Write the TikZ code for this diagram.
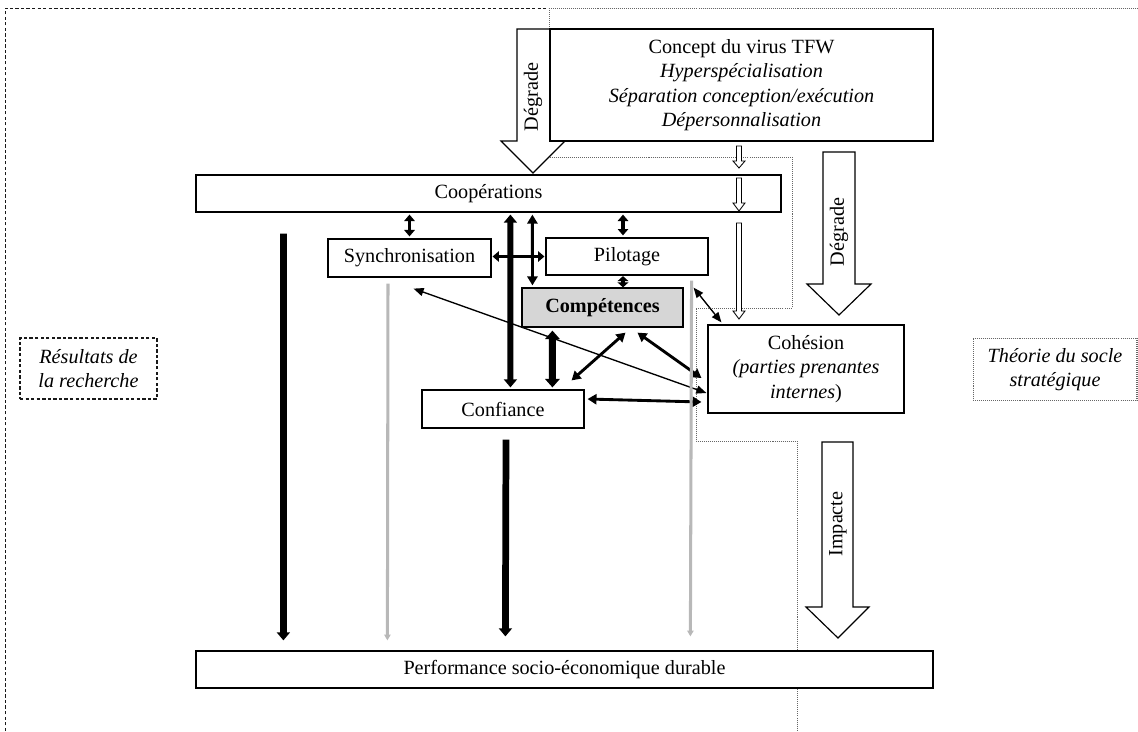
\documentclass[tikz,border=0pt]{standalone}
\usepackage{fontspec}
\setmainfont{Liberation Serif}
\usetikzlibrary{arrows.meta, calc}

\begin{document}
\begin{tikzpicture}[
  x=0.594pt, y=-0.594pt,
  font=\fontsize{12}{14.5}\selectfont,
  box/.style={draw, line width=0.7pt, fill=white, align=center, inner sep=0pt},
  skill/.style={box, fill=black!16, font=\fontsize{12}{14.5}\selectfont\bfseries},
  hollow/.style={draw, line width=0.7pt, fill=white, line join=miter},
  thinhollow/.style={draw, line width=0.5pt, fill=white},
  frame/.style={line width=0.55pt, draw=black!90, dash pattern=on 2pt off 1.3pt},
  zone/.style={line width=0.45pt, draw=black!60, dash pattern=on 0.6pt off 0.6pt},
  heavy/.style={line width=3.6pt, {Triangle[length=4.8pt,width=7.7pt]}-{Triangle[length=4.8pt,width=7.7pt]}},
  heavier/.style={line width=4.2pt, {Triangle[length=5pt,width=8.5pt]}-{Triangle[length=5pt,width=8.5pt]}},
  mid/.style={line width=2.2pt, {Triangle[length=3.8pt,width=6.2pt]}-{Triangle[length=3.8pt,width=6.2pt]}},
  short/.style={line width=2.2pt, {Triangle[length=3pt,width=6.4pt]}-{Triangle[length=3pt,width=6.4pt]}},
  medium/.style={line width=1.7pt, {Triangle[length=5.3pt,width=6pt]}-{Triangle[length=5.3pt,width=6pt]}},
  fine/.style={line width=0.8pt, {Triangle[length=6pt,width=4.8pt]}-{Triangle[length=6pt,width=4.8pt]}},
  feed/.style={line width=4pt, -{Triangle[length=4.8pt,width=7.7pt]}},
  greyfeed/.style={line width=1.8pt, black!28, -{Triangle[length=3.5pt,width=3.8pt]}}
]
\useasboundingbox (0,0) rectangle (1138,731);

% --- frames: research results (dashed) and strategic base (dotted) ---
\draw[frame] (5,731) -- (5,8) -- (549,8);
\draw[zone] (549,8) -- (1138,8);
\draw[zone] (549,8) -- (549,157) -- (792,157) -- (792,308) -- (696,308)
  -- (696,441) -- (797,441) -- (797,731);

\node[box, frame, line width=0.65pt, font=\fontsize{12}{14.5}\selectfont\itshape,
  minimum width=81.4pt, minimum height=36.2pt] (results) at (88.5,368.5)
  {Résultats de\\la recherche};
\node[box, zone, line width=0.6pt, font=\fontsize{12}{14.5}\selectfont\itshape,
  minimum width=97.4pt, minimum height=37.4pt] (theory) at (1055,369.5)
  {Théorie du socle\\stratégique};

% --- hollow block arrows ---
\draw[hollow] (517,29) -- (517,141) -- (501,141) -- (533,173) -- (565,141)
  -- (550,141) -- (550,29) -- cycle;
\node[rotate=90] (degradeA) at (533,97) {Dégrade};
\draw[hollow] (823,152) -- (823,284) -- (807,284) -- (839,315) -- (871,284)
  -- (855,284) -- (855,152) -- cycle;
\node[rotate=90] (degradeB) at (839,232) {Dégrade};
\draw[hollow] (822,442) -- (822,607) -- (806,607) -- (838,638) -- (869,607)
  -- (853,607) -- (853,442) -- cycle;
\node[rotate=90] (impact) at (838,524) {Impacte};

% --- the main boxes ---
\node[box, minimum width=227.5pt, minimum height=66.5pt] (virus) at (741.5,85)
  {Concept du virus TFW\\\textit{Hyperspécialisation}\\
   \textit{Séparation conception/exécution}\\\textit{Dépersonnalisation}};
\node[box, minimum width=347.5pt, minimum height=22pt] (coop) at (488.5,193.5) {Coopérations};
\node[box, minimum width=96.8pt, minimum height=22.6pt] (sync) at (409.5,258) {Synchronisation};
\node[box, minimum width=96.2pt, minimum height=22pt] (pilot) at (627,256.5) {Pilotage};
\node[skill, minimum width=95.6pt, minimum height=23.2pt] (skills) at (602.5,307.5) {Compétences};
\node[box, minimum width=96.2pt, minimum height=22.6pt] (trust) at (503,409) {Confiance};
\node[box, minimum width=116.4pt, minimum height=52.3pt] (cohesion) at (806,369)
  {Cohésion\\\textit{(parties prenantes}\\\textit{internes})};
\node[box, minimum width=437.8pt, minimum height=22pt] (perf) at (564.5,669.5)
  {Performance socio-économique durable};

% --- small hollow arrows from the virus down to cohesion ---
\draw[thinhollow] (736.5,146) -- (736.5,161) -- (733,161) -- (739,168) -- (745,161)
  -- (741.5,161) -- (741.5,146) -- cycle;
\draw[thinhollow] (736.5,178) -- (736.5,203) -- (733,203) -- (739,211) -- (745,203)
  -- (741.5,203) -- (741.5,178) -- cycle;
\draw[thinhollow] (736.5,223) -- (736.5,311) -- (733,311) -- (739,319) -- (745,311)
  -- (741.5,311) -- (741.5,223) -- cycle;

% --- links between the levers ---
\draw[mid] ($(sync.north |- coop.south)+(0,2)$) -- ($(sync.north)+(0,-2)$);
\draw[mid] ($(pilot.north |- coop.south)+(-4,2)$) -- ($(pilot.north)+(-4,-2)$);
\draw[short] ($(pilot.south)+(-4,0.5)$) -- ($(pilot.south |- skills.north)+(-4,0)$);
\draw[mid] ($(sync.east)+(1,-1.5)$) -- ($(sync.east -| pilot.west)+(-1,-1.5)$);
\draw[heavy] ($(coop.south west)+(315,2)$) -- ($(trust.north west)+(89,-2)$);
\draw[medium] ($(coop.south west)+(337,2)$) -- ($(skills.north west)+(11,-2)$);
\draw[heavier] ($(skills.south west)+(31,3)$) -- ($(trust.north west)+(131,-2)$);
\draw[medium] ($(skills.south)+(23,5)$) -- ($(trust.north east)+(-13,-9)$);
\draw[medium] ($(skills.south)+(35,5)$) -- ($(cohesion.west)+(-6,9)$);
\draw[medium] ($(trust.east)+(3,-10)$) -- ($(cohesion.west)+(-6,33)$);
\draw[fine] ($(sync.south)+(4,11)$) -- ($(cohesion.west)+(-1,24)$);
\draw[fine] ($(pilot.south east)+(-15,12)$) -- ($(cohesion.north west)+(14,-2)$);

% --- everything feeds the performance ---
\draw[feed] ($(coop.south west)+(88,21)$) -- ($(perf.north west)+(88,-10)$);
\draw[greyfeed] ($(sync.south)+(-21.5,6)$) -- ($(perf.north west)+(192,-10)$);
\draw[feed] ($(trust.south)+(3,11)$) -- ($(perf.north west)+(310,-14)$);
\draw[greyfeed] ($(pilot.south east)+(-17,5)$) -- ($(perf.north west)+(495,-14)$);

\end{tikzpicture}
\end{document}
